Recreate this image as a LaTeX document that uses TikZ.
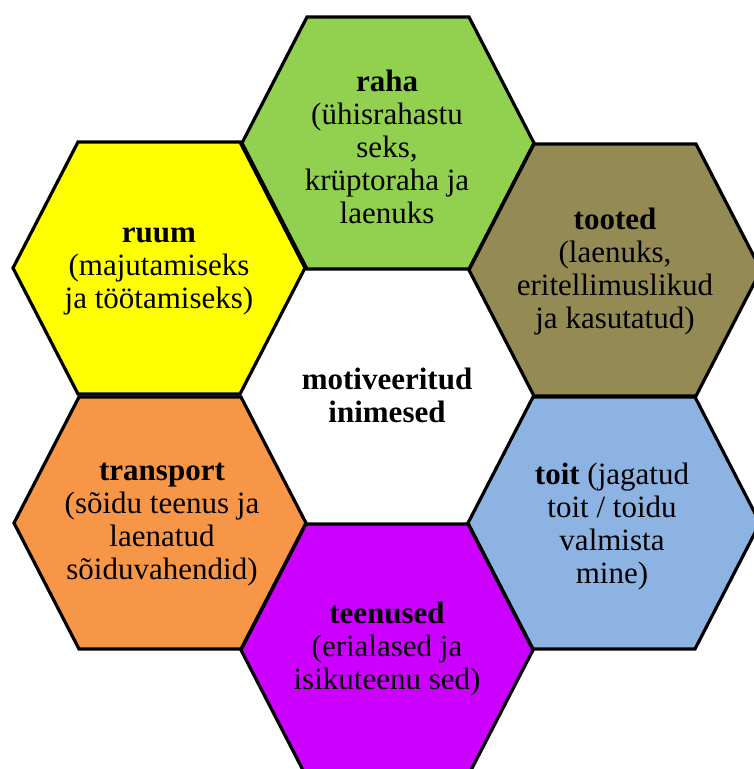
\documentclass[tikz,border=0pt]{standalone}
\usepackage{fontspec}
\setmainfont{Liberation Serif}
\definecolor{cellgreen}{HTML}{92D050}
\definecolor{cellyellow}{HTML}{FFFF00}
\definecolor{cellolive}{HTML}{948A54}
\definecolor{cellorange}{HTML}{F79646}
\definecolor{cellblue}{HTML}{8DB3E2}
\definecolor{cellpurple}{HTML}{CC00FF}
% flat-topped hexagon: centre (#1,#2), fill colour #3
\newcommand\hexcell[3]{%
  \draw[cell, fill=#3] (#1-146,#2) -- (#1-81,#2-126) -- (#1+81,#2-126)
    -- (#1+146,#2) -- (#1+81,#2+126) -- (#1-81,#2+126) -- cycle;}
\begin{document}
\begin{tikzpicture}[x=1pt,y=-1pt,
  cell/.style={draw=black, line width=3.2pt, line join=miter},
  celltext/.style={align=center, font=\fontsize{31}{33}\selectfont, text=black, inner sep=0pt}]
\useasboundingbox (0,0) rectangle (754,769);
\clip (0,0) rectangle (754,769);

% ring of six cells
\hexcell{388}{143}{cellgreen}
\hexcell{159}{268}{cellyellow}
\hexcell{615}{270}{cellolive}
\hexcell{160}{523}{cellorange}
\hexcell{614}{523}{cellblue}
\hexcell{387}{650}{cellpurple}

% labels
\node[celltext] (raha) at (387,147)
  {\textbf{raha}\\(ühisrahastu\\seks,\\krüptoraha ja\\laenuks};
\node[celltext] (ruum) at (159,271)
  {\textbf{ruum}\\(majutamiseks\\ja töötamiseks)};
\node[celltext] (tooted) at (615,272)
  {\textbf{tooted}\\(laenuks,\\eritellimuslikud\\ja kasutatud)};
\node[celltext] (transport) at (162,525)
  {\textbf{transport}\\(sõidu teenus ja\\laenatud\\sõiduvahendid)};
\node[celltext] (toit) at (612,527)
  {\textbf{toit} (jagatud\\toit / toidu\\valmista\\mine)};
\node[celltext] (teenused) at (387,649)
  {\textbf{teenused}\\(erialased ja\\isikuteenu sed)};
\node[celltext] (inimesed) at (387,395)
  {\textbf{motiveeritud}\\\textbf{inimesed}};
\end{tikzpicture}
\end{document}
